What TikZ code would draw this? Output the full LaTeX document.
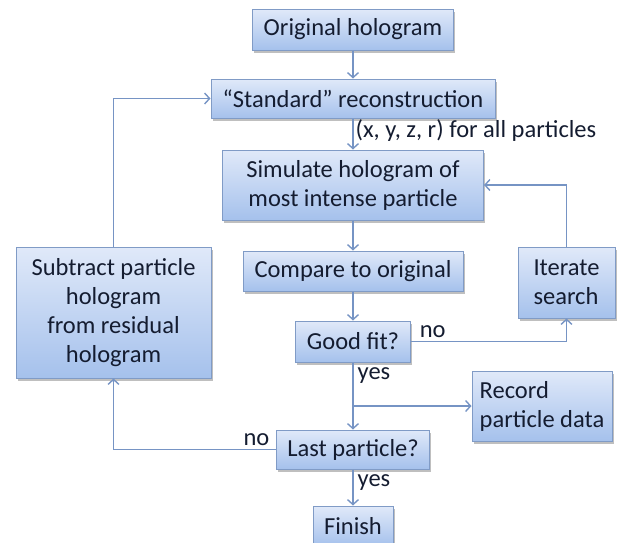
\documentclass[tikz,border=0pt]{standalone}
\usepackage{fontspec}
\setmainfont{Carlito}
\usetikzlibrary{arrows.meta,positioning,calc,shadows}
\definecolor{ink}{RGB}{20,28,48}
\definecolor{edge}{RGB}{128,155,198}
\definecolor{wire}{RGB}{118,148,196}
\definecolor{filltop}{RGB}{224,233,249}
\definecolor{fillbot}{RGB}{165,193,236}
\tikzset{
  every picture/.style={color=ink, line width=1pt},
  box/.style={draw=edge, line width=1pt, top color=filltop, bottom color=fillbot, text=ink,
    align=center, inner sep=3pt, font=\fontsize{24.5}{29}\selectfont,
    drop shadow={shadow xshift=1.5pt, shadow yshift=-2.5pt, opacity=0.25, fill=black}},
  side/.style={box, align=left},
  flow/.style={-{Straight Barb[length=5pt,width=11pt]}, draw=wire, line width=1.4pt},
  lbl/.style={font=\fontsize{24.5}{29}\selectfont, text=ink, inner sep=2pt},
}

\begin{document}
\begin{tikzpicture}[x=1pt, y=1pt]
  \useasboundingbox (0,0) rectangle (621,-542);
  % main column, top to bottom
  \node[box, minimum width=201pt, minimum height=41pt] (orig) at (353,-29.5) {Original hologram};
  \node[box, minimum width=284pt, minimum height=39pt, below=28pt of orig] (std) {``Standard'' reconstruction};
  \node[box, minimum width=261pt, minimum height=70pt, below=31pt of std] (sim) {Simulate hologram of\\ most intense particle};
  \node[box, minimum width=220pt, minimum height=40pt, below=30pt of sim] (cmp) {Compare to original};
  \node[box, minimum width=115pt, minimum height=41pt, below=29pt of cmp] (good) {Good fit?};
  \node[box, minimum width=153pt, minimum height=39pt, below=67pt of good] (last) {Last particle?};
  \node[box, minimum width=80pt, minimum height=40pt, below=36pt of last] (fin) {Finish};
  % side boxes
  \node[side, minimum width=97pt, minimum height=71pt] (iter) at (566.5,-282.5) {Iterate\\ search};
  \node[side, minimum width=140pt, minimum height=70pt] (rec) at (542,-406) {Record\\ particle data};
  \node[box, minimum width=195pt, minimum height=131pt] (sub) at (113.5,-312.5) {Subtract particle\\ hologram\\ from residual\\ hologram};
  \coordinate (split) at (good.south |- rec.west);
  \draw[flow] (orig) -- (std);
  \draw[flow] (std) -- node[lbl, right, pos=0.38] {(x, y, z, r) for all particles} (sim);
  \draw[flow] (sim) -- (cmp);
  \draw[flow] (cmp) -- (good);
  \draw[flow] (good) -- node[lbl, right, pos=0.2, xshift=2pt] {yes} (last);
  \draw[flow] (split) -- (rec);
  \draw[flow] (good) -| node[lbl, above, pos=0.07, yshift=1pt] {no} (iter);
  \draw[flow] (iter) |- (sim);
  \draw[flow] (last) -| node[lbl, above, pos=0.06, yshift=1pt] {no} (sub);
  \draw[flow] (sub) |- (std);
  \draw[flow] (last) -- node[lbl, right, pos=0.36, xshift=2pt] {yes} (fin);
\end{tikzpicture}
\end{document}
